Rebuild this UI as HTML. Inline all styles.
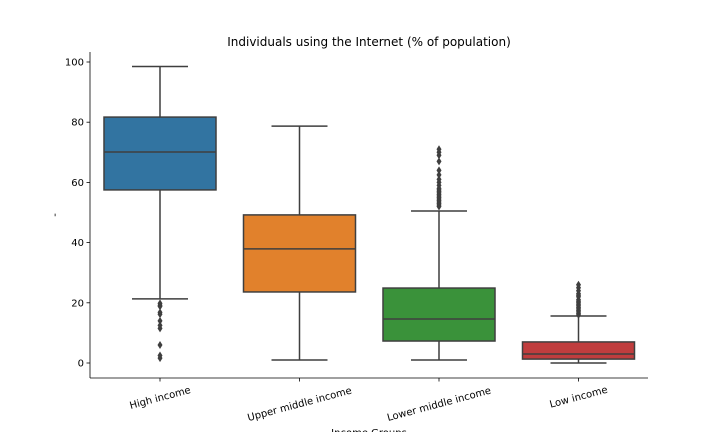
<!DOCTYPE html>
<html><head><meta charset="utf-8"><style>
body{margin:0;background:#fff}
svg text{font-family:"DejaVu Sans","Liberation Sans",sans-serif;fill:#000}
</style></head><body>
<svg id="chart" width="720" height="432" viewBox="0 0 720 432" xmlns="http://www.w3.org/2000/svg">
<text x="369" y="46" font-size="12" text-anchor="middle">Individuals using the Internet (% of population)</text>
<text x="0" y="0" font-size="10" text-anchor="middle" transform="translate(58,215) rotate(-90)">-</text>
<text x="369" y="436" font-size="10" text-anchor="middle">Income Groups</text>
<g id="plot"></g>
</svg>
<script>
const categories=["High income","Upper middle income","Lower middle income","Low income"];
const colors=["#3274a1","#e1812c","#3a923a","#c03d3e"];
const whiskerLow=[21.3,1,1,0];
const q1=[57.5,23.6,7.3,1.3];
const medians=[70.1,37.9,14.6,3];
const q3=[81.7,49.2,24.9,7];
const whiskerHigh=[98.5,78.7,50.5,15.6];
const outliers=[
 [19.8,19.2,18.8,16.8,16.2,14,12.5,11.5,6,2.5,1.6],
 [],
 [52,52.5,53,53.5,54,54.5,55,55.5,56,56.5,57,57.5,58,59,60,61,62.5,64,67,69,70,71],
 [16,16.5,17,17.5,18,18.5,19,19.5,20,20.5,21,22,22.5,23,24,25,26]
];
const yTicks=[0,20,40,60,80,100];
const L=90,R=648,T=52,B=378;
const y=v=>363-3.01*v;
const xc=i=>160+139.5*i;
const NS="http://www.w3.org/2000/svg";
const g=document.getElementById('plot');
function mk(tag,attrs){const e=document.createElementNS(NS,tag);for(const k in attrs)e.setAttribute(k,attrs[k]);g.appendChild(e);return e;}
// axes
let a=mk('line',{x1:L,y1:T,x2:L,y2:B,stroke:'#000','stroke-width':0.8});


a=mk('line',{x1:L,y1:B,x2:R,y2:B,stroke:'#000','stroke-width':0.8});


yTicks.forEach(t=>{
 const l=mk('line',{x1:L-3.5,y1:y(t),x2:L,y2:y(t),stroke:'#000','stroke-width':0.8});
 
 
 const tx=mk('text',{x:L-6,y:y(t)+3.5,'font-size':10,'text-anchor':'end'});
 tx.textContent=t;
 
 
});
categories.forEach((c,i)=>{
 const cx=xc(i),hw=56,s='#3f3f3f',sw=1.5;
 const l=mk('line',{x1:cx,y1:B,x2:cx,y2:B+3.5,stroke:'#000','stroke-width':0.8});
 
 
 const wl=mk('line',{x1:cx,y1:y(whiskerHigh[i]),x2:cx,y2:y(whiskerLow[i]),stroke:s,'stroke-width':sw});
 
 
 [whiskerHigh[i],whiskerLow[i]].forEach(v=>{
  const cap=mk('line',{x1:cx-28,y1:y(v),x2:cx+28,y2:y(v),stroke:s,'stroke-width':sw});
  
  
 });
 const box=mk('rect',{x:cx-hw,y:y(q3[i]),width:2*hw,height:y(q1[i])-y(q3[i]),fill:colors[i],stroke:s,'stroke-width':sw});
 
 
 const md=mk('line',{x1:cx-hw,y1:y(medians[i]),x2:cx+hw,y2:y(medians[i]),stroke:s,'stroke-width':sw});
 
 
 outliers[i].forEach(v=>{
  const o=mk('path',{d:`M${cx},${y(v)-4} L${cx+2.5},${y(v)} L${cx},${y(v)+4} L${cx-2.5},${y(v)} Z`,fill:s});
  
  
 });
 const w=c.length*6.1;
 const cy=383+(w*0.259+12*0.966)/2;
 const tx=mk('text',{x:cx,y:cy+3.5,'font-size':10,'text-anchor':'middle',transform:`rotate(-15 ${cx} ${cy})`});
 tx.textContent=c;
 
 
});
</script>
</body></html>
